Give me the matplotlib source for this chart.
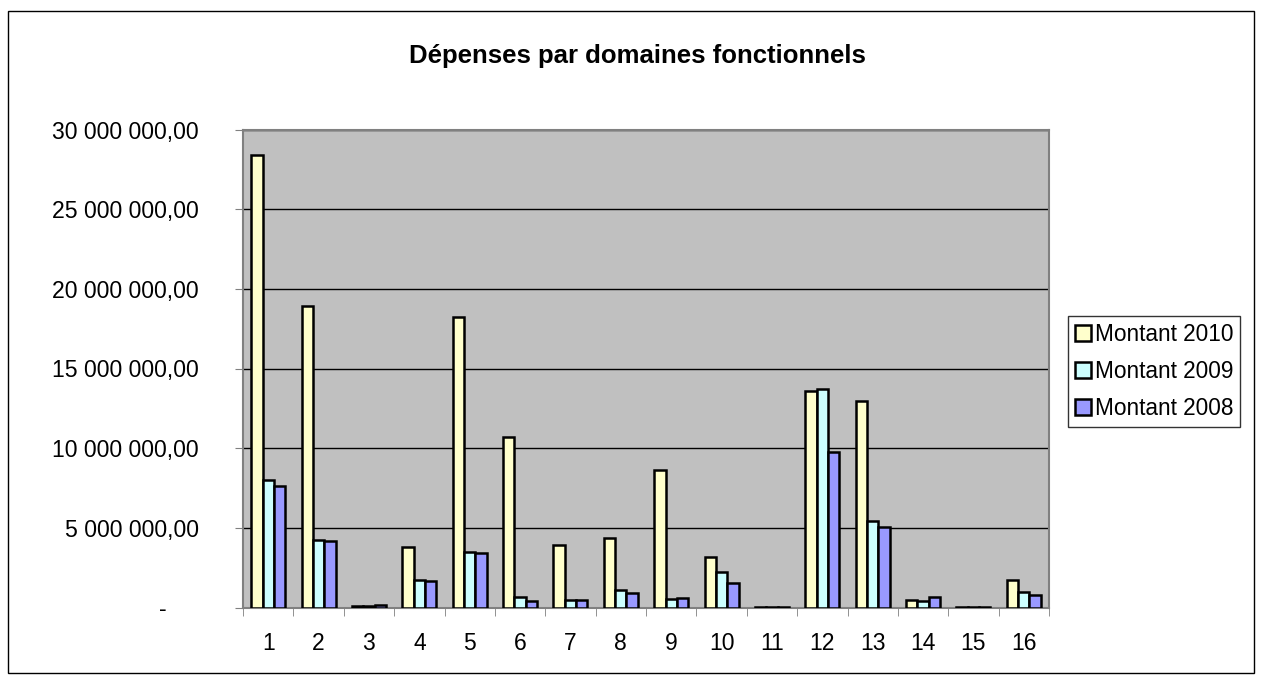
import numpy as np
import matplotlib
matplotlib.use("Agg")
import matplotlib.pyplot as plt
from matplotlib.ticker import FuncFormatter, MultipleLocator
from matplotlib.patches import Rectangle

plt.rcParams['font.family'] = ['Liberation Sans', 'DejaVu Sans']

# Données
domaines = [str(i) for i in range(1, 17)]
montant_2010 = [28430000, 18930000, 70000, 3810000, 18240000, 10680000, 3920000, 4340000,
                8630000, 3190000, 20000, 13580000, 12970000, 470000, 30000, 1710000]
montant_2009 = [7980000, 4230000, 80000, 1730000, 3460000, 680000, 470000, 1080000,
                550000, 2230000, 50000, 13710000, 5450000, 390000, 50000, 950000]
montant_2008 = [7620000, 4190000, 160000, 1680000, 3400000, 430000, 450000, 930000,
                600000, 1520000, 50000, 9760000, 5030000, 660000, 60000, 780000]

series = [("Montant 2010", montant_2010, "#FFFFCC"),
          ("Montant 2009", montant_2009, "#CCFFFF"),
          ("Montant 2008", montant_2008, "#9999FF")]

W, H = 1262, 682
fig = plt.figure(figsize=(W / 100, H / 100), dpi=100)
fig.patches.append(Rectangle((8 / W, 1 - 673 / H), (1254 - 8) / W, (673 - 11) / H,
                             transform=fig.transFigure, fill=False,
                             edgecolor="black", lw=1))

ax = fig.add_axes([243 / W, 1 - 607.5 / H, 806 / W, 478 / H])
ax.set_facecolor("#C0C0C0")

x = np.arange(len(domaines))
bw = 0.225
for i, (nom, vals, col) in enumerate(series):
    ax.bar(x + (i - 1) * bw, vals, width=bw, color=col, edgecolor="black",
           linewidth=1.8, label=nom, zorder=3)

ax.set_xlim(-0.5, len(domaines) - 0.5)
ax.set_ylim(0, 30000000)
ax.yaxis.set_major_locator(MultipleLocator(5000000))
ax.grid(axis="y", color="black", lw=1, zorder=1)


def fmt(v, pos):
    if v == 0:
        return "-     "
    return f"{v:,.2f}".replace(",", " ").replace(".", ",")


ax.yaxis.set_major_formatter(FuncFormatter(fmt))
ax.set_xticks(x)
ax.set_xticklabels(domaines)
ax.set_xticks(np.arange(-0.5, len(domaines)), minor=True)
ax.tick_params(axis="x", which="major", length=0, pad=18, labelsize=16.5)
ax.tick_params(axis="x", which="minor", length=6, direction="out", color="#808080")
ax.tick_params(axis="y", length=6, direction="out", pad=26, labelsize=16.6, color="#808080")

for s in ax.spines.values():
    s.set_color("#808080")
    s.set_linewidth(1.5)

fig.text(637 / W, 1 - 56 / H, "Dépenses par domaines fonctionnels",
         ha="center", va="center", fontsize=18.5, fontweight="bold")

leg = ax.legend(loc="center left", bbox_to_anchor=(1068 / W, 1 - 371.5 / H),
                bbox_transform=fig.transFigure, fontsize=16.3, frameon=True,
                fancybox=False, edgecolor="black", handlelength=0.7, handleheight=0.7,
                handletextpad=0.2, borderpad=0.3, labelspacing=0.62, borderaxespad=0)
leg.get_frame().set_linewidth(1)

fig.savefig("out.png", dpi=100)
